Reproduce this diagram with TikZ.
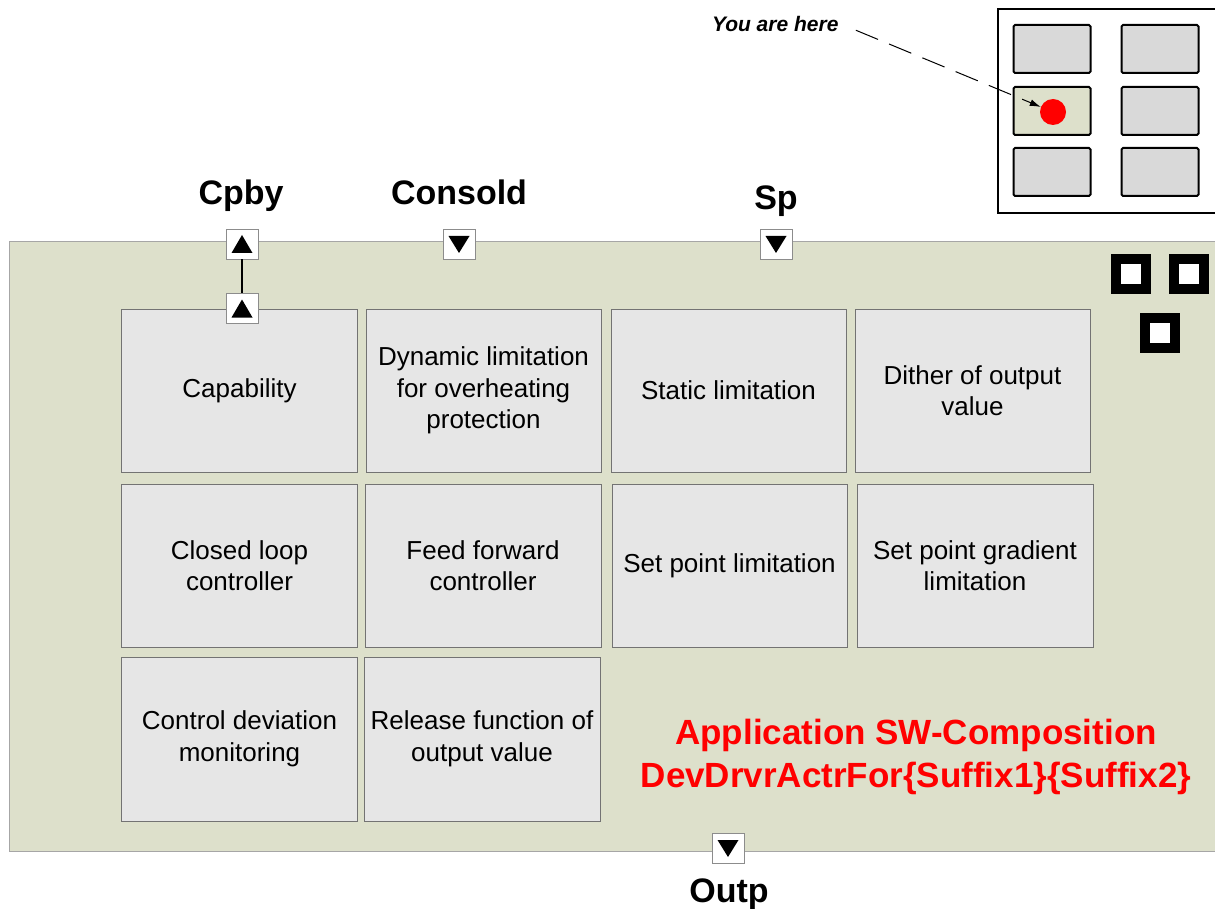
\documentclass[tikz,border=0pt]{standalone}
\usepackage{fontspec}
\setmainfont{Liberation Sans}
\usetikzlibrary{arrows.meta}
\definecolor{compgreen}{HTML}{DDE0CB}
\definecolor{boxgray}{HTML}{E6E6E6}
\definecolor{mapgray}{HTML}{D9D9D9}
\tikzset{
  fbox/.style={draw=black!55, fill=boxgray, line width=0.9pt, inner sep=0pt,
    minimum width=236pt, minimum height=163pt, align=center,
    font=\fontsize{26}{31.5}\selectfont},
  portbox/.style={draw=black!45, fill=white, line width=0.9pt, inner sep=0pt,
    minimum width=32pt, minimum height=30pt},
  portlabel/.style={anchor=base, font=\bfseries\fontsize{34}{40}\selectfont},
  mapbox/.style={draw=black, fill=mapgray, line width=2pt, rounded corners=1.5pt,
    inner sep=0pt, minimum width=77pt, minimum height=48pt},
  sqmark/.style={draw=black, line width=10pt, fill=white, inner sep=0pt,
    minimum size=30pt}
}
\begin{document}
\begin{tikzpicture}[x=1pt,y=-1pt]
\useasboundingbox (0,0) rectangle (1215,909);
% composition frame
\draw[draw=black!35, fill=compgreen, line width=1pt] (9,242) rectangle (1230,851);
% minimap
\draw[black, fill=white, line width=1.8pt] (998,9) rectangle (1230,213);
\node[mapbox] (m11) at (1052,49) {};
\node[mapbox] (m12) at (1160,49) {};
\node[mapbox, fill=compgreen] (m21) at (1052,111) {};
\node[mapbox] (m22) at (1160,111) {};
\node[mapbox] (m31) at (1052,172) {};
\node[mapbox] (m32) at (1160,172) {};
\node[circle, fill=red, inner sep=0pt, minimum size=26pt] (dot) at (1053,112) {};
\node[anchor=base east, font=\bfseries\itshape\fontsize{21}{25}\selectfont] (yah) at (842,32) {You are here};
\draw[dash pattern=on 24pt off 12pt, line width=1pt, -{Latex[length=11pt,width=7pt]}, shorten <=15pt] (yah.east) -- (dot);
% square marks
\node[sqmark] (sq1) at (1131,274) {};
\node[sqmark] (sq2) at (1189,274) {};
\node[sqmark] (sq3) at (1160,333) {};
% functional boxes
\node[fbox] (b11) at (239.5,390.5) {Capability};
\node[fbox, minimum width=235pt] (b12) at (483.5,390.5) {Dynamic limitation\\for overheating\\protection};
\node[fbox, minimum width=235pt] (b13) at (728.5,390.5) {Static limitation};
\node[fbox, minimum width=235pt] (b14) at (972.5,390.5) {Dither of output\\value};
\node[fbox] (b21) at (239.5,565.5) {Closed loop\\controller};
\node[fbox] (b22) at (483,565.5) {Feed forward\\controller};
\node[fbox, minimum width=235pt] (b23) at (729.5,565.5) {Set point limitation};
\node[fbox] (b24) at (975,565.5) {Set point gradient\\limitation};
\node[fbox, minimum height=164pt] (b31) at (239.5,739) {Control deviation\\monitoring};
\node[fbox, minimum height=164pt] (b32) at (482,739) {Release function of\\output value};
% composition name
\node[text=red, align=center, font=\bfseries\fontsize{35}{43}\selectfont] (title) at (916,757) {Application SW-Composition\\DevDrvrActrFor\{Suffix1\}\{Suffix2\}};
% ports
\node[portbox] (pcpby) at (242,244) {};
\node[portbox] (pcap) at (242,308.5) {};
\node[portbox] (pcons) at (459,244) {};
\node[portbox] (psp) at (776,244) {};
\node[portbox] (poutp) at (728,848) {};
\draw[line width=1.2pt] (pcpby.south) -- (pcap.north);
% triangles in ports
\foreach \p in {pcpby,pcap} {
  \fill ([shift={(-10.5,9)}]\p.center) -- ([shift={(10.5,9)}]\p.center) -- ([shift={(0,-9)}]\p.center) -- cycle;
}
\foreach \p in {pcons,psp,poutp} {
  \fill ([shift={(-10.5,-8)}]\p.center) -- ([shift={(10.5,-8)}]\p.center) -- ([shift={(0,9)}]\p.center) -- cycle;
}
% port labels
\node[portlabel] (lcpby) at (241,205) {Cpby};
\node[portlabel] (lcons) at (459,205) {Consold};
\node[portlabel] (lsp) at (776,210) {Sp};
\node[portlabel] (loutp) at (729,902) {Outp};
\end{tikzpicture}
\end{document}
